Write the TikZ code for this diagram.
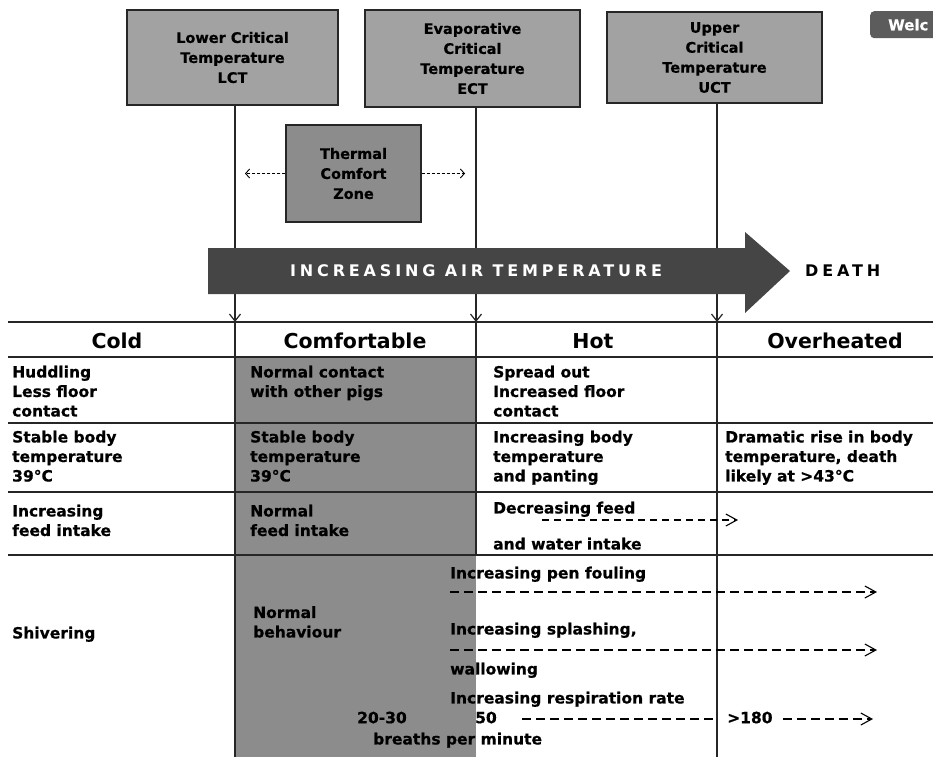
\documentclass[tikz,border=0pt]{standalone}
\usepackage{fontspec}
\setmainfont{DejaVu Sans}
\newfontfamily\heavyfamily[FakeBold=0.6]{DejaVu Sans Bold}
\newfontfamily\spacedfamily[LetterSpace=24]{DejaVu Sans Bold}
\usetikzlibrary{arrows.meta,positioning}
\definecolor{boxgrey}{HTML}{A2A2A2}
\definecolor{zonegrey}{HTML}{8C8C8C}
\definecolor{arrowgrey}{HTML}{454545}
\definecolor{badgegrey}{HTML}{5C5C5C}
\newcommand\boxfnt{\heavyfamily\fontsize{14.5}{20}\selectfont}
\newcommand\cellfnt{\heavyfamily\fontsize{15.5}{19.5}\selectfont}
\newcommand\headfnt{\bfseries\fontsize{20.5}{24}\selectfont}
\newcommand\spacedfnt{\spacedfamily\fontsize{16}{19}\selectfont}

\begin{document}
\begin{tikzpicture}[x=1pt,y=-1pt,
    critbox/.style={draw=black!85,line width=1.2pt,fill=boxgrey,align=center,font=\boxfnt,inner sep=0pt},
    celltext/.style={anchor=north west,align=left,inner sep=0pt,font=\cellfnt},
    header/.style={anchor=base,inner sep=0pt,font=\headfnt},
    rule/.style={line width=1.1pt,black!85},
    tick/.style={line width=1.2pt,black!85,-{Straight Barb[length=7pt,width=11pt]}},
    zonearrow/.style={line width=0.9pt,densely dashed,-{Straight Barb[length=4pt,width=9pt]}},
    trend/.style={line width=1.1pt,dash pattern=on 9pt off 5pt,-{Straight Barb[length=11pt,width=12pt]}}]
    \useasboundingbox[fill=white] (0,0) rectangle (933,757);
    % threshold boxes
    \node[critbox,minimum width=211,minimum height=95] (lct) at (232.5,57.5) {Lower Critical\\Temperature\\LCT};
    \node[critbox,minimum width=215,minimum height=97] (ect) at (472.5,58.5) {Evaporative\\Critical\\Temperature\\ECT};
    \node[critbox,minimum width=215,minimum height=91] (uct) at (714.5,57.5) {Upper\\Critical\\Temperature\\UCT};
    \node[critbox,fill=zonegrey,minimum width=135,minimum height=97] (tcz) at (353.5,173.5) {Thermal\\Comfort\\Zone};
    \node[fill=badgegrey,rounded corners=4pt,text=white,font=\heavyfamily\fontsize{15}{17}\selectfont,
        anchor=north west,minimum height=27,inner xsep=18pt] (welc) at (870,11) {Welc};
    \coordinate (lctend) at (235,322);
    \coordinate (ectend) at (476,322);
    \coordinate (uctend) at (717,322);
    \coordinate (zoneleft) at (245,173.5);
    \coordinate (zoneright) at (465,173.5);
    \draw[tick] (lct.south -| lctend) -- (lctend);
    \draw[tick] (ect.south -| ectend) -- (ectend);
    \draw[tick] (uct.south -| uctend) -- (uctend);
    \draw[zonearrow] (tcz.west) -- (zoneleft);
    \draw[zonearrow] (tcz.east) -- (zoneright);
    % temperature arrow
    \fill[arrowgrey] (208,248) -- (745,248) -- (745,232) -- (790,271) -- (745,313) -- (745,294) -- (208,294) -- cycle;
    \node[font=\spacedfnt,text=white,anchor=west,inner sep=0pt] (airtemp) at (290,271) {INCREASING AIR TEMPERATURE};
    \node[font=\spacedfnt,anchor=west,inner sep=0pt] (death) at (805,271) {DEATH};
    % table
    \fill[zonegrey] (235,357) rectangle (476,757);
    \foreach \y in {322,357,423,492,555}{
        \draw[rule] (8,\y) -- (933,\y);
    }
    \draw[rule] (lctend) -- (235,757);
    \draw[rule] (ectend) -- (476,555);
    \draw[rule] (uctend) -- (717,757);
    \node[header] (cold) at (117,348) {Cold};
    \node[header] (comf) at (355,348) {Comfortable};
    \node[header] (hot) at (593,348) {Hot};
    \node[header] (over) at (835,348) {Overheated};
    \node[celltext] (huddle) at (12,365.5) {Huddling\\Less floor\\contact};
    \node[celltext] (normcontact) at (250,365.5) {Normal contact\\with other pigs};
    \node[celltext] (spread) at (493,365.5) {Spread out\\Increased floor\\contact};
    \node[celltext] (coldtemp) at (12,430.5) {Stable body\\temperature\\39°C};
    \node[celltext] (comftemp) at (250,430.5) {Stable body\\temperature\\39°C};
    \node[celltext] (hottemp) at (493,430.5) {Increasing body\\temperature\\and panting};
    \node[celltext] (overtemp) at (725,430.5) {Dramatic rise in body\\temperature, death\\likely at >43°C};
    \node[celltext] (coldfeed) at (12,504.5) {Increasing\\feed intake};
    \node[celltext] (comffeed) at (250,504.5) {Normal\\feed intake};
    \node[celltext] (hotfeed) at (493,501.5) {Decreasing feed};
    \node[celltext] (hotwater) at (493,537.5) {and water intake};
    \node[celltext] (shiver) at (12,626.5) {Shivering};
    \node[celltext] (normbeh) at (253,606) {Normal\\behaviour};
    \node[celltext] (fouling) at (450,566.5) {Increasing pen fouling};
    \node[celltext] (splash) at (450,622.5) {Increasing splashing,};
    \node[celltext] (wallow) at (450,662.5) {wallowing};
    \node[celltext] (resp) at (450,691.5) {Increasing respiration rate};
    \node[celltext] (restrate) at (357,711.5) {20-30};
    \node[celltext] (fifty) at (475,711.5) {50};
    \node[celltext] (breaths) at (373,732.5) {breaths per minute};
    \node[celltext] (overrate) at (727,711.5) {>180};
    % trend arrows
    \coordinate (feedstart) at (542,520);
    \coordinate (feedend) at (738,520);
    \coordinate (foulstart) at (450,592);
    \coordinate (foulend) at (877,592);
    \coordinate (splashstart) at (450,650);
    \coordinate (splashend) at (877,650);
    \coordinate (rateend) at (873,719);
    \draw[trend,dash pattern=on 7pt off 5pt] (feedstart) -- (feedend);
    \draw[trend] (foulstart) -- (foulend);
    \draw[trend] (splashstart) -- (splashend);
    \draw[trend,-] (fifty.east |- rateend) ++(25,0) -- (uctend |- rateend);
    \draw[trend] (overrate.east |- rateend) ++(10,0) -- (rateend);
\end{tikzpicture}
\end{document}
